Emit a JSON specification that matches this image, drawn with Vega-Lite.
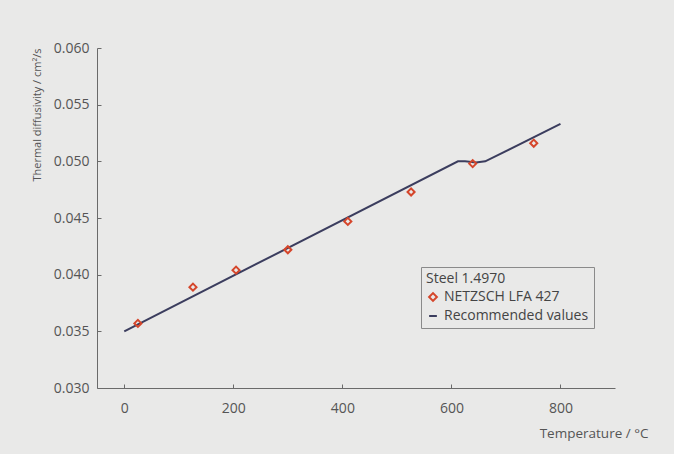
{
  "$schema": "https://vega.github.io/schema/vega-lite/v6.json",
  "width": 518,
  "height": 340,
  "autosize": {"type": "none"},
  "padding": {"left": 97, "top": 48, "right": 59, "bottom": 66},
  "background": "#e9e9e8",
  "config": {
    "view": {"stroke": null},
    "font": "Open Sans",
    "axis": {
      "grid": false,
      "domainColor": "#6a6a6a",
      "tickColor": "#6a6a6a",
      "labelColor": "#555555",
      "titleColor": "#555555",
      "labelFontSize": 14,
      "titleFontSize": 11,
      "titleFontWeight": "normal"
    }
  },
  "datasets": {
    "measured": [
      {"temperature": 25, "diffusivity": 0.0357, "series": "NETZSCH LFA 427"},
      {"temperature": 126, "diffusivity": 0.0389, "series": "NETZSCH LFA 427"},
      {"temperature": 205, "diffusivity": 0.0404, "series": "NETZSCH LFA 427"},
      {"temperature": 300, "diffusivity": 0.0422, "series": "NETZSCH LFA 427"},
      {"temperature": 410, "diffusivity": 0.0447, "series": "NETZSCH LFA 427"},
      {"temperature": 526, "diffusivity": 0.0473, "series": "NETZSCH LFA 427"},
      {"temperature": 639, "diffusivity": 0.0498, "series": "NETZSCH LFA 427"},
      {"temperature": 751, "diffusivity": 0.0516, "series": "NETZSCH LFA 427"}
    ],
    "recommended": [
      {"temperature": 0, "diffusivity": 0.0350, "series": "Recommended values"},
      {"temperature": 612, "diffusivity": 0.0500, "series": "Recommended values"},
      {"temperature": 625, "diffusivity": 0.0500, "series": "Recommended values"},
      {"temperature": 645, "diffusivity": 0.0499, "series": "Recommended values"},
      {"temperature": 662, "diffusivity": 0.0500, "series": "Recommended values"},
      {"temperature": 800, "diffusivity": 0.0533, "series": "Recommended values"}
    ]
  },
  "encoding": {
    "x": {
      "field": "temperature",
      "type": "quantitative",
      "scale": {"domain": [-50, 900], "nice": false, "zero": false},
      "axis": {
        "values": [0, 200, 400, 600, 800],
        "title": "Temperature / °C",
        "titleFontSize": 13.5,
        "tickSize": -4,
        "labelPadding": 17,
        "titleX": 551,
        "titleY": 45,
        "titleAlign": "right",
        "titleBaseline": "middle"
      }
    },
    "y": {
      "field": "diffusivity",
      "type": "quantitative",
      "scale": {"domain": [0.03, 0.06], "nice": false, "zero": false},
      "axis": {
        "values": [0.03, 0.035, 0.04, 0.045, 0.05, 0.055, 0.06],
        "format": ".3f",
        "title": "Thermal diffusivity / cm²/s",
        "tickSize": -4,
        "labelPadding": 12,
        "titleX": -60,
        "titleY": 0,
        "titleAngle": 270,
        "titleAlign": "right",
        "titleBaseline": "middle"
      }
    },
    "color": {
      "field": "series",
      "type": "nominal",
      "scale": {
        "domain": ["NETZSCH LFA 427", "Recommended values"],
        "range": ["#d5462b", "#3b3d5e"]
      },
      "legend": {
        "title": "Steel 1.4970",
        "orient": "none",
        "legendX": 324,
        "legendY": 219,
        "strokeColor": "#8a8a8a",
        "padding": 5,
        "titleFontSize": 14,
        "titleFontWeight": "normal",
        "titleColor": "#444444",
        "titlePadding": 4,
        "labelFontSize": 14,
        "labelColor": "#444444",
        "symbolStrokeWidth": 2,
        "symbolSize": 60,
        "rowPadding": 4
      }
    }
  },
  "layer": [
    {
      "data": {"name": "recommended"},
      "mark": {"type": "line", "strokeWidth": 2}
    },
    {
      "data": {"name": "measured"},
      "mark": {"type": "point", "shape": "diamond", "filled": false, "strokeWidth": 2, "size": 50, "opacity": 1},
      "encoding": {
        "shape": {
          "field": "series",
          "type": "nominal",
          "scale": {
            "domain": ["NETZSCH LFA 427", "Recommended values"],
            "range": ["diamond", "stroke"]
          },
          "legend": {
            "title": "Steel 1.4970",
            "orient": "none",
            "legendX": 324,
            "legendY": 219
          }
        }
      }
    }
  ]
}
